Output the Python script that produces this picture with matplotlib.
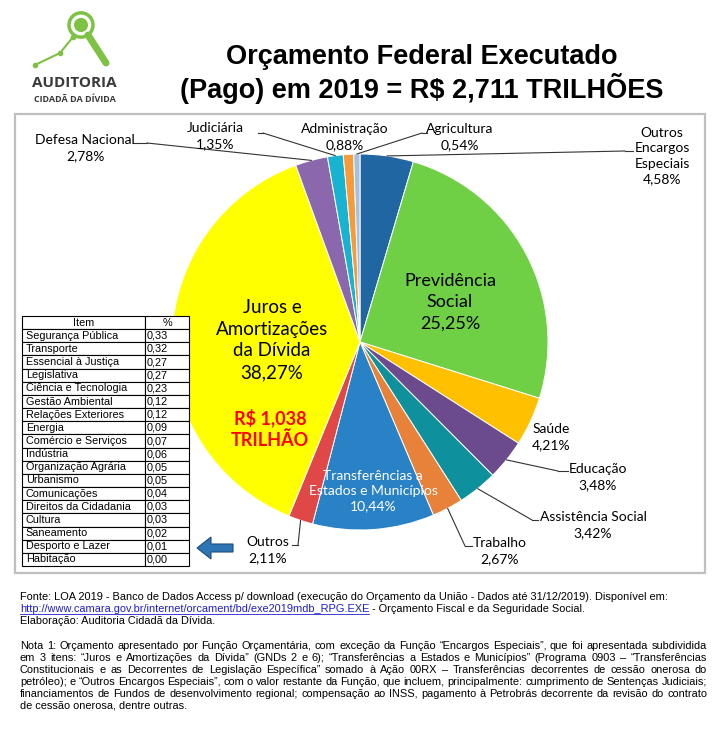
import numpy as np
import matplotlib.pyplot as plt
from matplotlib import font_manager
from matplotlib.patches import Rectangle, Circle, Polygon
from matplotlib.lines import Line2D

W, H = 727, 736

# pie data (clockwise from 12 o'clock)
labels = ['Outros\nEncargos\nEspeciais', 'Previdência\nSocial', 'Saúde', 'Educação',
          'Assistência Social', 'Trabalho', 'Transferências a\nEstados e Municípios',
          'Outros', 'Juros e\nAmortizações\nda Dívida', 'Defesa Nacional',
          'Judiciária', 'Administração', 'Agricultura']
values = [4.58, 25.25, 4.21, 3.48, 3.42, 2.67, 10.44, 2.11, 38.27, 2.78, 1.35, 0.88, 0.54]
colors = ['#1F66A2', '#6FCF45', '#FFC000', '#6B4A8E', '#0E919C', '#E8823A', '#2A82C6',
          '#E04848', '#FFFF00', '#8B68AD', '#17B3D1', '#F79A3A', '#A8C0DE']

# small items grouped into "Outros"
table_items = ['Segurança Pública', 'Transporte', 'Essencial à Justiça', 'Legislativa',
               'Ciência e Tecnologia', 'Gestão Ambiental', 'Relações Exteriores', 'Energia',
               'Comércio e Serviços', 'Indústria', 'Organização Agrária', 'Urbanismo',
               'Comunicações', 'Direitos da Cidadania', 'Cultura', 'Saneamento',
               'Desporto e Lazer', 'Habitação']
table_values = [0.33, 0.32, 0.27, 0.27, 0.23, 0.12, 0.12, 0.09, 0.07, 0.06, 0.05, 0.05,
                0.04, 0.03, 0.03, 0.02, 0.01, 0.00]

names = {f.name for f in font_manager.fontManager.ttflist}
SANS = 'Liberation Sans'
LBL = 'Lato' if 'Lato' in names else 'DejaVu Sans'


def px(x, y):
    return x / W, 1 - y / H


def pct(v):
    return f'{v:.2f}'.replace('.', ',') + '%'


fig = plt.figure(figsize=(W / 100, H / 100), dpi=100)
fig.patch.set_facecolor('white')

# frame around chart
fig.add_artist(Rectangle(px(15, 573), 690 / W, 459 / H, fill=False, edgecolor='#BFBFBF',
                         lw=1.6, transform=fig.transFigure))

# ---- logo
green = '#7DC242'
fig.add_artist(Line2D([px(35, 65)[0], px(60, 53)[0], px(73, 37)[0]],
                      [px(35, 65)[1], px(60, 53)[1], px(73, 37)[1]],
                      color=green, lw=1.5, marker='o', ms=3, transform=fig.transFigure))
fig.add_artist(Line2D([px(88, 35)[0], px(106, 63)[0]], [px(88, 35)[1], px(106, 63)[1]],
                      color=green, lw=5, solid_capstyle='round', transform=fig.transFigure))
fig.add_artist(Circle(px(81, 25), 12 / W, facecolor='white', edgecolor=green, lw=2.5,
                      transform=fig.transFigure))
fig.add_artist(Circle(px(81, 25), 7 / W, facecolor=green, edgecolor='none',
                      transform=fig.transFigure))
fig.text(*px(74, 83), 'AUDITORIA', ha='center', va='center', fontsize=11,
         fontweight='bold', color='#3A3A3A', family='Open Sans')
fig.text(*px(75, 100), 'CIDADÃ DA DÍVIDA', ha='center', va='center', fontsize=6.5,
         fontweight='bold', color='#3A3A3A', family='Open Sans')

# ---- title
fig.text(*px(422, 57), 'Orçamento Federal Executado', ha='center', va='center',
         fontsize=19.5, fontweight='bold', family=SANS)
fig.text(*px(422, 88), '(Pago) em 2019 = R$ 2,711 TRILHÕES', ha='center', va='center',
         fontsize=19.5, fontweight='bold', family=SANS)

# ---- pie
R = 188
ax = fig.add_axes([(360 - R) / W, 1 - (342 + R) / H, 2 * R / W, 2 * R / H])
wedges, _ = ax.pie(values, colors=colors, startangle=90, counterclock=False,
                   wedgeprops=dict(edgecolor='white', linewidth=0.7))
ax.set_xlim(-1, 1)
ax.set_ylim(-1, 1)


def label(i, x, y, size=10, color='black', ls=1.35, ha='center', weight='normal', text=None):
    s = text if text is not None else labels[i] + '\n' + pct(values[i])
    fig.text(*px(x, y), s, ha=ha, va='center', multialignment='center', fontsize=size,
             color=color, family=LBL, linespacing=ls, fontweight=weight)


def leader(i, tail, elbow):
    w = wedges[i]
    a = np.deg2rad((w.theta1 + w.theta2) / 2)
    ax.annotate('', xy=(np.cos(a), np.sin(a)), xycoords='data',
                xytext=px(*elbow), textcoords='figure fraction',
                arrowprops=dict(arrowstyle='-', lw=0.8, color='#333333', shrinkA=0, shrinkB=0),
                annotation_clip=False)
    fig.add_artist(Line2D([px(*tail)[0], px(*elbow)[0]], [px(*tail)[1], px(*elbow)[1]],
                          lw=0.8, color='#333333', transform=fig.transFigure))


label(0, 662, 156)
label(1, 450, 302, size=13, ls=1.4)
label(2, 551, 437)
label(3, 598, 477)
label(4, 593, 525)
label(5, 500, 551)
label(6, 373, 491, color='white', ls=1.3)
label(7, 268, 550)
label(8, 272, 340, size=13.5, ls=1.33)
label(8, 270, 429, size=13, color='#FF0000', weight='bold', ls=1.25,
      text='R$ 1,038\nTRILHÃO')
label(9, 85, 148)
label(10, 215, 136)
label(11, 345, 137)
label(12, 460, 137)

leader(0, (633, 151), (625, 151))
leader(3, (568, 471), (558, 471))
leader(4, (538, 520), (532, 520))
leader(5, (472, 546), (465, 546))
leader(7, (292, 545), (298, 545))
leader(9, (133, 143), (147, 143))
leader(10, (258, 133), (263, 133))
leader(12, (427, 133), (422, 133))

# ---- table of "Outros"
tax = fig.add_axes([22 / W, 1 - 566 / H, 167 / W, 250 / H])
tax.axis('off')
rows = [[n, f'{v:.2f}'.replace('.', ',')] for n, v in zip(table_items, table_values)]
tab = tax.table(cellText=rows, colLabels=['Item', '%'], colWidths=[123 / 167, 44 / 167],
                cellLoc='left', bbox=[0, 0, 1, 1])
tab.auto_set_font_size(False)
for (r, c), cell in tab.get_celld().items():
    cell.set_linewidth(0.8)
    cell.PAD = 0.03
    cell.get_text().set_fontsize(7.8)
    cell.get_text().set_family(SANS)
    if r == 0:
        cell._loc = 'center'
    elif c == 1:
        cell._loc = 'right'

# arrow pointing at the table
arrow = [(197, 548), (211, 537), (211, 544), (233, 544), (233, 552), (211, 552), (211, 559)]
fig.add_artist(Polygon([px(*p) for p in arrow], closed=True, facecolor='#2E75B6',
                       edgecolor='#1F4E79', lw=0.8, transform=fig.transFigure))

# ---- notes at the bottom
NS = 7.9
fig.text(*px(20, 597), 'Fonte: LOA 2019 - Banco de Dados Access p/ download (execução do '
         'Orçamento da União - Dados até 31/12/2019). Disponível em:', fontsize=NS,
         family=SANS, va='center')
link = fig.text(*px(20, 609), 'http://www.camara.gov.br/internet/orcament/bd/exe2019mdb_RPG.EXE',
                fontsize=NS, family=SANS, va='center', color='#1F1FD0')
r = fig.canvas.get_renderer()
lw_ = link.get_window_extent(r).width
fig.add_artist(Line2D([px(20, 614)[0], px(20 + lw_, 614)[0]], [px(20, 614)[1]] * 2,
                      lw=0.6, color='#1F1FD0', transform=fig.transFigure))
fig.text(*px(20 + lw_, 609), ' - Orçamento Fiscal e da Seguridade Social.', fontsize=NS,
         family=SANS, va='center')
fig.text(*px(20, 621), 'Elaboração: Auditoria Cidadã da Dívida.', fontsize=NS, family=SANS,
         va='center')

nota = [
    'Nota 1: Orçamento apresentado por Função Orçamentária, com exceção da Função “Encargos '
    'Especiais”, que foi apresentada subdividida',
    'em 3 itens: “Juros e Amortizações da Dívida” (GNDs 2 e 6); “Transferências a Estados e '
    'Municípios” (Programa 0903 – “Transferências',
    'Constitucionais e as Decorrentes de Legislação Específica” somado à Ação 00RX – '
    'Transferências decorrentes de cessão onerosa do',
    'petróleo); e “Outros Encargos Especiais”, com o valor restante da Função, que incluem, '
    'principalmente: cumprimento de Sentenças Judiciais;',
    'financiamentos de Fundos de desenvolvimento regional; compensação ao INSS, pagamento à '
    'Petrobrás decorrente da revisão do contrato',
    'de cessão onerosa, dentre outras.',
]
for k, line in enumerate(nota):
    y = 646 + k * 12.0
    if k == len(nota) - 1:
        fig.text(*px(20, y), line, fontsize=NS, family=SANS, va='center')
        continue
    words = line.split(' ')
    ts = [fig.text(0, 0, wd, fontsize=NS, family=SANS, va='center') for wd in words]
    widths = [t.get_window_extent(r).width for t in ts]
    gap = (707 - 20 - sum(widths)) / (len(words) - 1)
    x = 20
    for t, wd in zip(ts, widths):
        t.set_position(px(x, y))
        x += wd + gap

fig.savefig('out.png', dpi=100, facecolor='white')
